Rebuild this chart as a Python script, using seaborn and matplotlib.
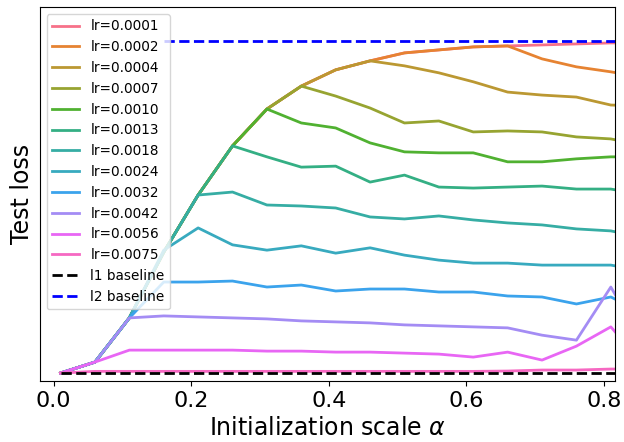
import matplotlib
matplotlib.use("Agg")
import matplotlib.pyplot as plt
import numpy as np
import pandas as pd
import seaborn as sns

# initialization scales (last point is just past the right edge)
alphas = [0.01, 0.06, 0.11, 0.16, 0.21, 0.26, 0.31, 0.36, 0.41,
          0.46, 0.51, 0.56, 0.61, 0.66, 0.71, 0.76, 0.81, 0.86]

lr_labels = ["lr=0.0001", "lr=0.0002", "lr=0.0004", "lr=0.0007",
             "lr=0.0010", "lr=0.0013", "lr=0.0018", "lr=0.0024",
             "lr=0.0032", "lr=0.0042", "lr=0.0056", "lr=0.0075"]

# test loss (normalised units: l1 baseline = 0, l2 baseline = 1)
loss_0001 = [0.000, 0.033, 0.166, 0.364, 0.536, 0.684, 0.795, 0.864, 0.913,
             0.940, 0.964, 0.973, 0.982, 0.985, 0.988, 0.991, 0.994, 0.994]
loss_0002 = [0.000, 0.033, 0.166, 0.364, 0.536, 0.684, 0.795, 0.864, 0.913,
             0.940, 0.964, 0.973, 0.982, 0.985, 0.946, 0.922, 0.907, 0.889]
loss_0004 = [0.000, 0.033, 0.166, 0.364, 0.536, 0.684, 0.795, 0.864, 0.913,
             0.940, 0.925, 0.904, 0.877, 0.846, 0.837, 0.831, 0.807, 0.804]
loss_0007 = [0.000, 0.033, 0.166, 0.364, 0.536, 0.684, 0.795, 0.864, 0.834,
             0.798, 0.753, 0.759, 0.726, 0.729, 0.726, 0.711, 0.705, 0.684]
loss_0010 = [0.000, 0.033, 0.166, 0.364, 0.536, 0.684, 0.795, 0.753, 0.738,
             0.693, 0.666, 0.663, 0.663, 0.636, 0.636, 0.645, 0.651, 0.651]
loss_0013 = [0.000, 0.033, 0.166, 0.364, 0.536, 0.684, 0.651, 0.620, 0.623,
             0.575, 0.596, 0.560, 0.557, 0.560, 0.563, 0.554, 0.554, 0.536]
loss_0018 = [0.000, 0.033, 0.166, 0.364, 0.536, 0.545, 0.506, 0.503, 0.497,
             0.470, 0.464, 0.473, 0.461, 0.452, 0.446, 0.434, 0.428, 0.407]
loss_0024 = [0.000, 0.033, 0.166, 0.370, 0.437, 0.386, 0.370, 0.383, 0.361,
             0.377, 0.355, 0.340, 0.331, 0.331, 0.325, 0.325, 0.325, 0.307]
loss_0032 = [0.000, 0.033, 0.166, 0.274, 0.274, 0.277, 0.259, 0.265, 0.247,
             0.253, 0.253, 0.244, 0.244, 0.232, 0.229, 0.208, 0.229, 0.178]
loss_0042 = [0.000, 0.033, 0.166, 0.172, 0.169, 0.166, 0.163, 0.157, 0.154,
             0.151, 0.145, 0.142, 0.139, 0.136, 0.114, 0.099, 0.259, 0.081]
loss_0056 = [0.000, 0.033, 0.069, 0.069, 0.069, 0.069, 0.066, 0.066, 0.063,
             0.063, 0.060, 0.057, 0.048, 0.063, 0.039, 0.081, 0.139, 0.020]
loss_0075 = [0.000, 0.005, 0.005, 0.005, 0.005, 0.005, 0.005, 0.005, 0.005,
             0.005, 0.005, 0.005, 0.005, 0.006, 0.009, 0.009, 0.012, 0.012]

l1_baseline = 0.0
l2_baseline = 1.0

all_losses = [loss_0001, loss_0002, loss_0004, loss_0007, loss_0010, loss_0013,
              loss_0018, loss_0024, loss_0032, loss_0042, loss_0056, loss_0075]

fig = plt.figure(figsize=(6.24, 4.42), dpi=100)
ax = fig.add_axes([0.064, 0.138, 0.9215, 0.846])

colores = sns.color_palette("husl", len(lr_labels))
for lab, vals, c in zip(lr_labels, all_losses, colores):
    sns.lineplot(x=alphas, y=vals, color=c, label=lab, linewidth=2, ax=ax)

ax.plot(alphas, [l1_baseline] * len(alphas), "--", color="black",
        linewidth=2, label="l1 baseline")
# l2 line only shows to the right of the legend in the original
ax.plot(alphas[3:], [l2_baseline] * len(alphas[3:]), "--", color="blue",
        linewidth=2, label="l2 baseline")

ax.set_xlim(-0.02, 0.816)
ax.set_ylim(-0.024, 1.102)
ax.set_yticks([])
ax.set_xticks([0.0, 0.2, 0.4, 0.6, 0.8])
ax.tick_params(axis="x", labelsize=16)
ax.set_xlabel(r"Initialization scale $\alpha$", fontsize=17)
ax.set_ylabel("Test loss", fontsize=17)
ax.legend(loc="upper left", fontsize=9.8)

fig.savefig("out.png", dpi=100)
